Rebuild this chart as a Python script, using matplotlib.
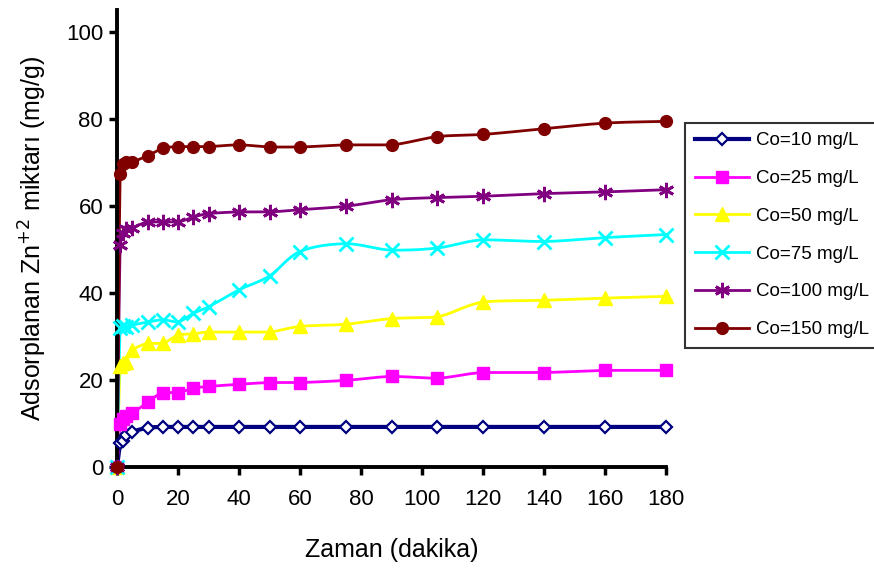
import numpy as np
import matplotlib
matplotlib.use("Agg")
import matplotlib.pyplot as plt
from matplotlib.lines import Line2D

plt.rcParams['font.family'] = ['Liberation Sans', 'DejaVu Sans']

# Contact time (min)
zaman = [0, 1, 2, 3, 5, 10, 15, 20, 25, 30, 40, 50, 60, 75, 90, 105, 120, 140, 160, 180]

# Adsorbed Zn(II) amount (mg/g) for each initial concentration
q_10 = [0, 5.4, 6.0, 7.3, 8.1, 9.0, 9.2, 9.2, 9.2, 9.2, 9.2, 9.2, 9.2, 9.2, 9.2, 9.2, 9.2, 9.2, 9.2, 9.2]
q_25 = [0, 9.8, 11.0, 11.6, 12.3, 14.9, 17.1, 17.1, 18.1, 18.5, 19.0, 19.4, 19.4, 19.9, 20.8, 20.4, 21.7, 21.7, 22.2, 22.2]
q_50 = [0, 23.3, 23.9, 24.2, 26.8, 28.4, 28.4, 30.3, 30.6, 31.0, 31.0, 31.0, 32.3, 32.8, 34.1, 34.5, 37.9, 38.3, 38.8, 39.2]
q_75 = [0, 32.0, 32.3, 32.2, 32.6, 33.3, 33.8, 33.3, 35.3, 36.8, 40.7, 43.9, 49.5, 51.3, 49.8, 50.3, 52.2, 51.8, 52.7, 53.4]
q_100 = [0, 51.0, 53.8, 54.7, 55.0, 56.3, 56.3, 56.3, 57.4, 58.2, 58.6, 58.6, 59.1, 59.9, 61.4, 61.9, 62.2, 62.8, 63.2, 63.7]
q_150 = [0, 67.3, 69.6, 70.0, 70.1, 71.5, 73.2, 73.6, 73.6, 73.6, 74.0, 73.5, 73.5, 74.0, 74.0, 75.9, 76.4, 77.7, 79.0, 79.4]

etiketler = ["Co=10 mg/L", "Co=25 mg/L", "Co=50 mg/L", "Co=75 mg/L", "Co=100 mg/L", "Co=150 mg/L"]

x_ticks = list(range(0, 181, 20))
y_ticks = list(range(0, 101, 20))


def smooth(x, y, n=20):
    """Smoothed polyline through the points (cubic Bezier, Catmull-Rom style,
    control points kept within each segment's vertical range)."""
    P = np.column_stack([x, y]).astype(float)
    m = len(P)
    out = [P[0]]
    t = np.linspace(0, 1, n)[1:]
    for i in range(m - 1):
        p0 = P[i - 1] if i > 0 else P[i]
        p1 = P[i]
        p2 = P[i + 1]
        p3 = P[i + 2] if i + 2 < m else P[i + 1]
        b1 = p1 + (p2 - p0) / 6.0
        b2 = p2 - (p3 - p1) / 6.0
        lo, hi = min(p1[1], p2[1]), max(p1[1], p2[1])
        b1[1] = np.clip(b1[1], lo, hi)
        b2[1] = np.clip(b2[1], lo, hi)
        for tt in t:
            pt = ((1 - tt) ** 3) * p1 + 3 * ((1 - tt) ** 2) * tt * b1 + 3 * (1 - tt) * tt ** 2 * b2 + tt ** 3 * p2
            out.append(pt)
    out = np.array(out)
    return out[:, 0], out[:, 1]


styles = [
    dict(color="#000080", marker="D", mfc="white", ms=6.5, mew=1.6, lw=3.0),
    dict(color="#FF00FF", marker="s", mfc="#FF00FF", ms=8, mew=1, lw=2.0),
    dict(color="#FFFF00", marker="^", mfc="#FFFF00", ms=10, mew=1, lw=2.0),
    dict(color="#00FFFF", marker="x", mfc="#00FFFF", ms=10, mew=2.0, lw=2.0),
    dict(color="#800080", marker=(6, 2, 0), mfc="#800080", ms=11, mew=2.0, lw=2.0),
    dict(color="#800000", marker="o", mfc="#800000", ms=8.5, mew=1, lw=2.0),
]

fig = plt.figure(figsize=(8.74, 5.72), dpi=100)
ax = fig.add_axes([0.134, 0.1836, 0.628, 0.799])

handles = []
for seri, st in zip([q_10, q_25, q_50, q_75, q_100, q_150], styles):
    xs, ys = smooth(zaman, seri)
    ax.plot(xs, ys, color=st["color"], lw=st["lw"], clip_on=False, zorder=2)
    ax.plot(zaman, seri, ls="none", marker=st["marker"], color=st["color"],
            mfc=st["mfc"], mec=st["color"], ms=st["ms"], mew=st["mew"],
            clip_on=False, zorder=3)
    handles.append(Line2D([], [], color=st["color"], lw=st["lw"], marker=st["marker"],
                          mfc=st["mfc"], mec=st["color"], ms=st["ms"], mew=st["mew"]))

ax.set_xlim(0, 180)
ax.set_ylim(0, 105)
ax.set_xticks(x_ticks)
ax.set_yticks(y_ticks)
ax.tick_params(axis="both", direction="out", length=6, width=2.5, labelsize=16)
ax.tick_params(axis="x", pad=10)
ax.tick_params(axis="y", pad=4)
for s in ["top", "right"]:
    ax.spines[s].set_visible(False)
for s in ["left", "bottom"]:
    ax.spines[s].set_linewidth(2.8)

ax.set_xlabel("Zaman (dakika)", fontsize=18, labelpad=20)
ax.set_ylabel("Adsorplanan Zn$^{+2}$ miktarı (mg/g)", fontsize=18, labelpad=12)

leg = fig.legend(handles, etiketler, loc="upper left", bbox_to_anchor=(0.784, 0.785),
                 borderaxespad=0, fontsize=13.5, frameon=True, fancybox=False,
                 handlelength=2.9, labelspacing=1.1, borderpad=0.5, handletextpad=0.37)
leg.get_frame().set_edgecolor("black")
leg.get_frame().set_linewidth(1.5)

fig.savefig("out.png", dpi=100)
